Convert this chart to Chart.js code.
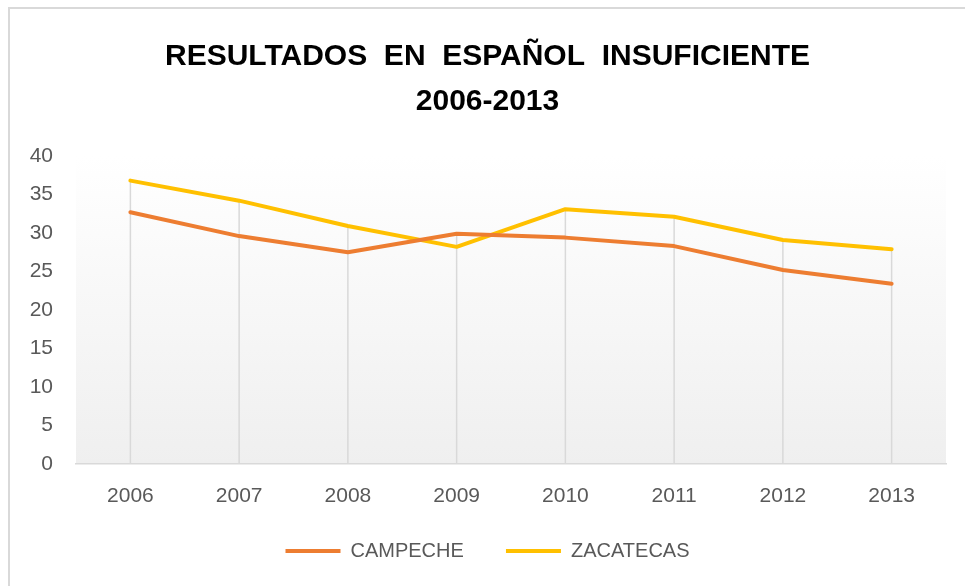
<!DOCTYPE html>
<html>
<head>
<meta charset="utf-8">
<script src="https://cdn.jsdelivr.net/npm/chart.js@4/dist/chart.umd.min.js"></script>
<style>
  html, body { margin: 0; padding: 0; background: #fff; overflow: hidden; }
  #frame {
    position: absolute; left: 8px; top: 7px; width: 1000px; height: 620px;
    border-left: 2px solid #d9d9d9; border-top: 2px solid #d9d9d9;
  }
  #wrap { position: absolute; left: 0; top: 0; width: 965px; height: 586px; }
</style>
</head>
<body>
<div id="frame"></div>
<div id="wrap"><canvas id="lineChart"></canvas></div>
<script>
const years = ["2006", "2007", "2008", "2009", "2010", "2011", "2012", "2013"];
const campeche = [32.7, 29.6, 27.5, 29.9, 29.4, 28.3, 25.2, 23.4];
const zacatecas = [36.8, 34.2, 30.9, 28.2, 33.1, 32.1, 29.1, 27.9];
const yTicks = [0, 5, 10, 15, 20, 25, 30, 35, 40];

const GREY = "#595959";

// plot area background + drop lines from the highest point down to the axis
const plotBits = {
  id: "plotBits",
  beforeDraw(chart) {
    const { ctx, chartArea: a } = chart;
    const g = ctx.createLinearGradient(0, a.top, 0, a.bottom);
    g.addColorStop(0, "#ffffff");
    g.addColorStop(1, "#efefef");
    ctx.save();
    ctx.fillStyle = g;
    ctx.fillRect(a.left, a.top, a.right - a.left, a.bottom - a.top);
    ctx.restore();
  },
  beforeDatasetsDraw(chart) {
    const { ctx, chartArea: a, scales } = chart;
    ctx.save();
    ctx.strokeStyle = "#d9d9d9";
    ctx.lineWidth = 1.5;
    years.forEach((y, i) => {
      const top = Math.max(...chart.data.datasets.map(d => d.data[i]));
      const x = scales.x.getPixelForValue(i);
      ctx.beginPath();
      ctx.moveTo(x, scales.y.getPixelForValue(top));
      ctx.lineTo(x, a.bottom);
      ctx.stroke();
    });
    ctx.restore();
  }
};

const CHART = document.getElementById("lineChart");

let lineChart = new Chart(CHART, {
  type: "line",
  data: {
    labels: years,
    datasets: [
      {
        label: "CAMPECHE",
        data: campeche,
        borderColor: "#ED7D31",
        backgroundColor: "#ED7D31",
        borderWidth: 4,
        borderCapStyle: "round",
        borderJoinStyle: "round",
        pointRadius: 0,
        tension: 0,
        fill: false
      },
      {
        label: "ZACATECAS",
        data: zacatecas,
        borderColor: "#FFC000",
        backgroundColor: "#FFC000",
        borderWidth: 4,
        borderCapStyle: "round",
        borderJoinStyle: "round",
        pointRadius: 0,
        tension: 0,
        fill: false
      }
    ]
  },
  options: {
    responsive: true,
    maintainAspectRatio: false,
    animation: false,
    layout: { padding: { left: 29, right: 19, top: 24, bottom: 15 } },
    plugins: {
      title: {
        display: true,
        text: ["RESULTADOS  EN  ESPAÑOL  INSUFICIENTE", "2006-2013"],
        color: "#000",
        font: { family: "Liberation Sans", size: 30, weight: "bold", lineHeight: 1.5 },
        padding: { top: 10, bottom: 32 }
      },
      legend: {
        position: "bottom",
        labels: {
          color: GREY,
          font: { family: "Liberation Sans", size: 20 },
          usePointStyle: true,
          pointStyle: "line",
          pointStyleWidth: 55,
          padding: 31,
          generateLabels(chart) {
            const items = Chart.defaults.plugins.legend.labels.generateLabels(chart);
            items.forEach((it, i) => { if (i < items.length - 1) it.text += "  "; });
            return items;
          }
        }
      },
      tooltip: { enabled: false }
    },
    scales: {
      x: {
        offset: true,
        grid: { display: false, drawTicks: false },
        border: { display: true, color: "#d9d9d9", width: 1.5 },
        ticks: { color: GREY, font: { family: "Liberation Sans", size: 21 }, padding: 20 },
        afterFit(axis) { axis.height = 46; }
      },
      y: {
        min: 0,
        max: 40,
        afterBuildTicks(axis) { axis.ticks = yTicks.map(v => ({ value: v })); },
        grid: { display: false, drawTicks: false },
        border: { display: false },
        ticks: { color: GREY, font: { family: "Liberation Sans", size: 21 }, padding: 23 },
        afterFit(axis) { axis.width = 47; }
      }
    }
  },
  plugins: [plotBits]
});
</script>
</body>
</html>
